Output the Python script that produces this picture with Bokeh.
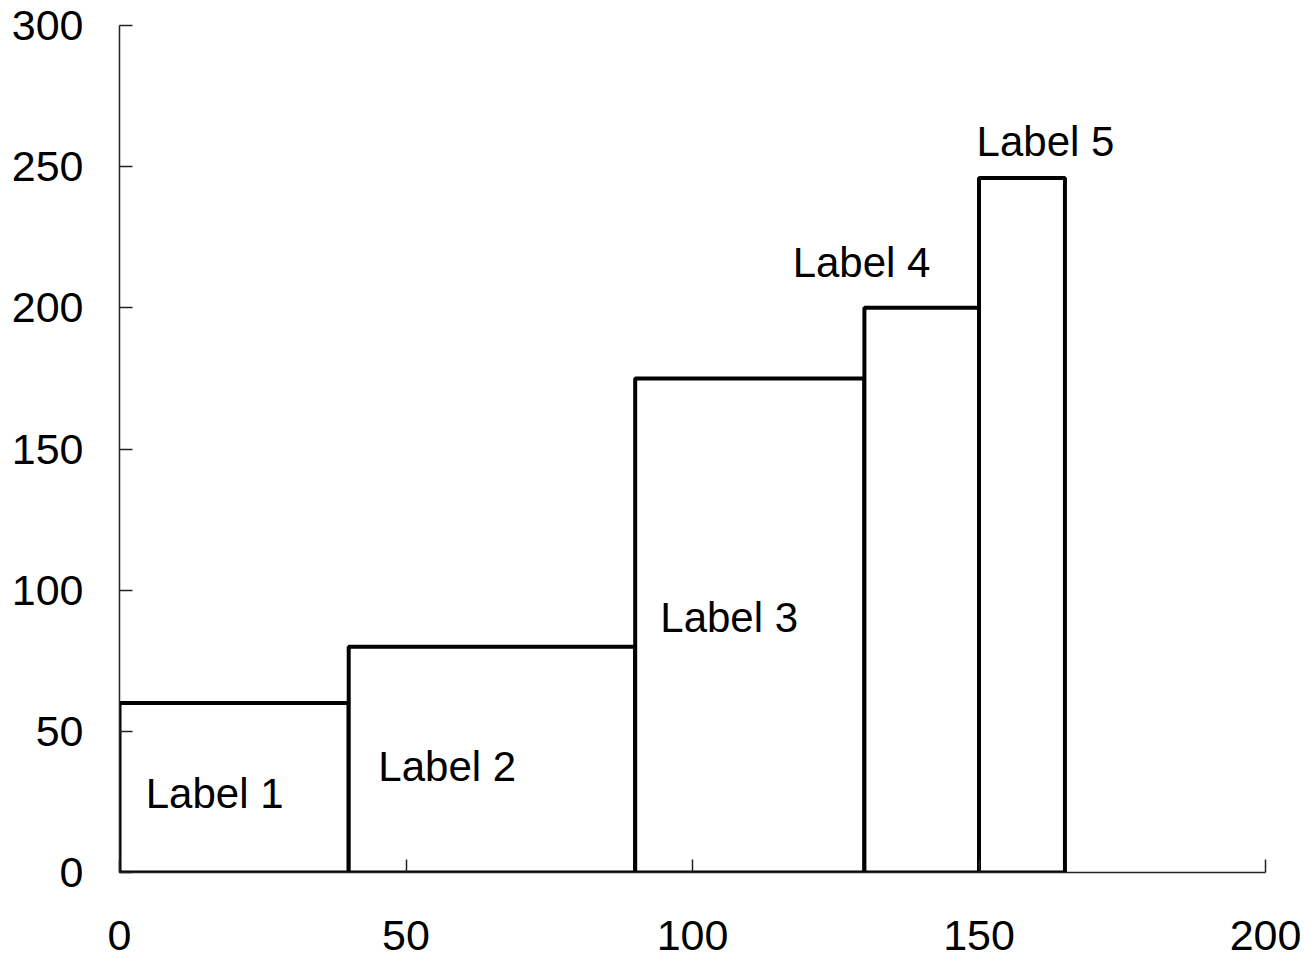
from bokeh.plotting import figure
from bokeh.models import Range1d, FixedTicker, ColumnDataSource
from bokeh.core.properties import value
from bokeh.embed import file_html
from bokeh.resources import INLINE

# Data
labels = ["Label 1", "Label 2", "Label 3", "Label 4", "Label 5"]
widths = [40, 50, 40, 20, 15]
heights = [60, 80, 175, 200, 246]
label_x = [16.6, 57.2, 106.4, 129.5, 161.6]
label_y = [28.0, 37.6, 90.4, 216.0, 258.8]
x_ticks = [0, 50, 100, 150, 200]
y_ticks = [0, 50, 100, 150, 200, 250, 300]

lefts = []
acc = 0
for w in widths:
    lefts.append(acc)
    acc += w
rights = [l + w for l, w in zip(lefts, widths)]

FONT = "Liberation Sans"

p = figure(width=1306, height=958, output_backend="svg", toolbar_location=None,
           x_range=Range1d(0, 200), y_range=Range1d(0, 300),
           min_border_left=119, min_border_right=41, min_border_top=25,
           min_border_bottom=86)
p.outline_line_color = None
p.xgrid.visible = False
p.ygrid.visible = False
p.background_fill_color = "white"

src = ColumnDataSource(dict(left=lefts, right=rights, bottom=[0] * len(heights), top=heights))
p.quad(left="left", right="right", bottom="bottom", top="top", source=src,
       fill_color="white", line_color="black", line_width=4)

lsrc = ColumnDataSource(dict(x=label_x, y=label_y, text=labels))
p.text(x="x", y="y", text="text", source=lsrc, text_align="center", text_baseline="middle",
       text_font=value(FONT), text_font_size="42px", text_color="black")

for ax, ticks in ((p.xaxis[0], x_ticks), (p.yaxis[0], y_ticks)):
    ax.ticker = FixedTicker(ticks=ticks)
    ax.axis_line_color = "#222222"
    ax.axis_line_width = 1.5
    ax.major_tick_line_color = "#222222"
    ax.major_tick_line_width = 1.5
    ax.major_tick_in = 13
    ax.major_tick_out = 0
    ax.minor_tick_line_color = None
    ax.major_label_text_font = FONT
    ax.major_label_text_font_size = "43px"
    ax.major_label_text_color = "black"

p.xaxis.major_label_standoff = 48
p.yaxis.major_label_standoff = 36

open("out.html", "w").write(file_html(p, INLINE))
